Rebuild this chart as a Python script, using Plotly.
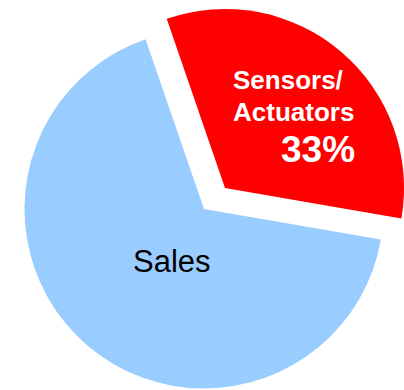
import plotly.graph_objects as go

# Share of work by area
labels = ["Sensors/Actuators", "Sales"]
values = [33, 67]
colors = ["#FF0000", "#99CCFF"]
label_lines = [["Sensors/", "Actuators"], ["Sales"]]

W, H = 404, 390
FONT = "Liberation Sans, Arial, sans-serif"
TRANSPARENT = "rgba(0,0,0,0)"

# pie geometry in pixels: main centre, radius and the exploded slice offset
cx, cy, r = 204, 209, 179.5
pull_dx, pull_dy = 21, -21
r_pulled = 179


def domain(px, py, rad):
    return dict(x=[(px - rad) / W, (px + rad) / W],
                y=[1 - (py + rad) / H, 1 - (py - rad) / H])


common = dict(labels=labels, values=values, sort=False, direction="clockwise",
              rotation=-19, textinfo="none", showlegend=False,
              marker_line_width=0)

fig = go.Figure()
# Sales slice at the centre
fig.add_trace(go.Pie(**common, domain=domain(cx, cy, r),
                     marker_colors=[TRANSPARENT, colors[1]]))
# Sensors/Actuators slice, exploded outwards
fig.add_trace(go.Pie(**common,
                     domain=domain(cx + pull_dx, cy + pull_dy, r_pulled),
                     marker_colors=[colors[0], TRANSPARENT]))

total = sum(values)
pct = f"{round(100 * values[0] / total)}%"


def px(x):
    return x / W


def py(y):
    return 1 - y / H


annotations = [
    dict(text=f"<b>{label_lines[0][0]}</b>", x=px(231), y=py(80),
         xanchor="left", yanchor="middle",
         font=dict(family=FONT, size=26, color="white")),
    dict(text=f"<b>{label_lines[0][1]}</b>", x=px(231), y=py(112.5),
         xanchor="left", yanchor="middle",
         font=dict(family=FONT, size=26, color="white")),
    dict(text=f"<b>{pct}</b>", x=px(357), y=py(149),
         xanchor="right", yanchor="middle",
         font=dict(family=FONT, size=37, color="white")),
    dict(text=label_lines[1][0], x=px(171.5), y=py(261),
         xanchor="center", yanchor="middle",
         font=dict(family=FONT, size=31, color="black")),
]
for a in annotations:
    a.update(xref="paper", yref="paper", showarrow=False)

fig.update_layout(width=W, height=H, margin=dict(l=0, r=0, t=0, b=0),
                  paper_bgcolor="white", plot_bgcolor="white",
                  annotations=annotations)

fig.write_html("out.html")
